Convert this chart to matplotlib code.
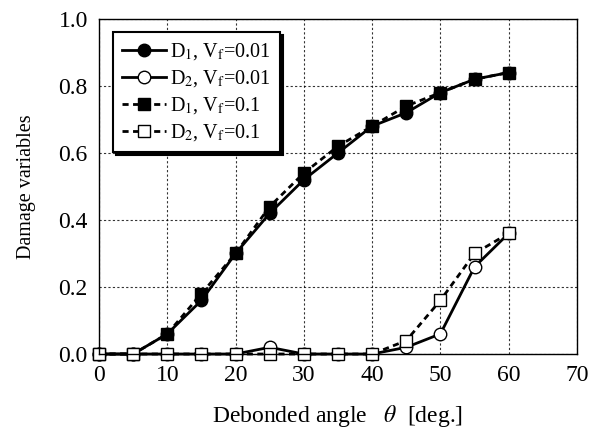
import matplotlib.pyplot as plt

plt.rcParams['font.family'] = ['Liberation Serif', 'DejaVu Serif']
plt.rcParams['mathtext.fontset'] = 'stix'

theta = [0, 5, 10, 15, 20, 25, 30, 35, 40, 45, 50, 55, 60]
d1_vf001 = [0.0, 0.0, 0.06, 0.16, 0.30, 0.42, 0.52, 0.60, 0.68, 0.72, 0.78, 0.82, 0.84]
d2_vf001 = [0.0, 0.0, 0.0, 0.0, 0.0, 0.02, 0.0, 0.0, 0.0, 0.02, 0.06, 0.26, 0.36]
d1_vf01 = [0.0, 0.0, 0.06, 0.18, 0.30, 0.44, 0.54, 0.62, 0.68, 0.74, 0.78, 0.82, 0.84]
d2_vf01 = [0.0, 0.0, 0.0, 0.0, 0.0, 0.0, 0.0, 0.0, 0.0, 0.04, 0.16, 0.30, 0.36]

fig = plt.figure(figsize=(6.01, 4.30), dpi=100)
ax = fig.add_axes([0.1647, 0.1767, 0.7953, 0.7793])

lw = 2.0
ms = 9
dash = (0, (2.2, 1.6))
ax.plot(theta, d1_vf001, '-', color='black', lw=lw, marker='o', ms=ms,
        mfc='black', mec='black', clip_on=False, label=r'D$_1$, V$_\mathrm{f}$=0.01')
ax.plot(theta, d2_vf001, '-', color='black', lw=lw, marker='o', ms=ms,
        mfc='white', mec='black', clip_on=False, label=r'D$_2$, V$_\mathrm{f}$=0.01')
ax.plot(theta, d1_vf01, linestyle=dash, color='black', lw=lw, marker='s', ms=ms,
        mfc='black', mec='black', clip_on=False, label=r'D$_1$, V$_\mathrm{f}$=0.1')
ax.plot(theta, d2_vf01, linestyle=dash, color='black', lw=lw, marker='s', ms=ms,
        mfc='white', mec='black', clip_on=False, label=r'D$_2$, V$_\mathrm{f}$=0.1')

ax.set_xlim(0, 70)
ax.set_ylim(0, 1.0)
ax.set_xticks(range(0, 71, 10))
ax.set_yticks([0.0, 0.2, 0.4, 0.6, 0.8, 1.0])
ax.set_yticklabels(['0.0', '0.2', '0.4', '0.6', '0.8', '1.0'])
ax.tick_params(direction='in', labelsize=17, length=0, pad=8)
ax.grid(True, linestyle=(0, (2, 2)), color='black', lw=0.8, alpha=0.8)
for s in ax.spines.values():
    s.set_linewidth(1.0)
    s.set_zorder(5)

ax.set_xlabel(r'Debonded angle   $\theta$  [deg.]', fontsize=17, labelpad=12)
ax.set_ylabel('Damage variables', fontsize=14.5, labelpad=16)

leg = ax.legend(loc='upper left', bbox_to_anchor=(0.008, 0.99), fontsize=14.5,
                frameon=True, fancybox=False, shadow={'color': 'black', 'alpha': 1.0},
                edgecolor='black', framealpha=1, handlelength=2.2,
                handletextpad=0.2, labelspacing=0.3, borderpad=0.45)
leg.get_frame().set_linewidth(1.5)

fig.savefig('out.png', dpi=100)
